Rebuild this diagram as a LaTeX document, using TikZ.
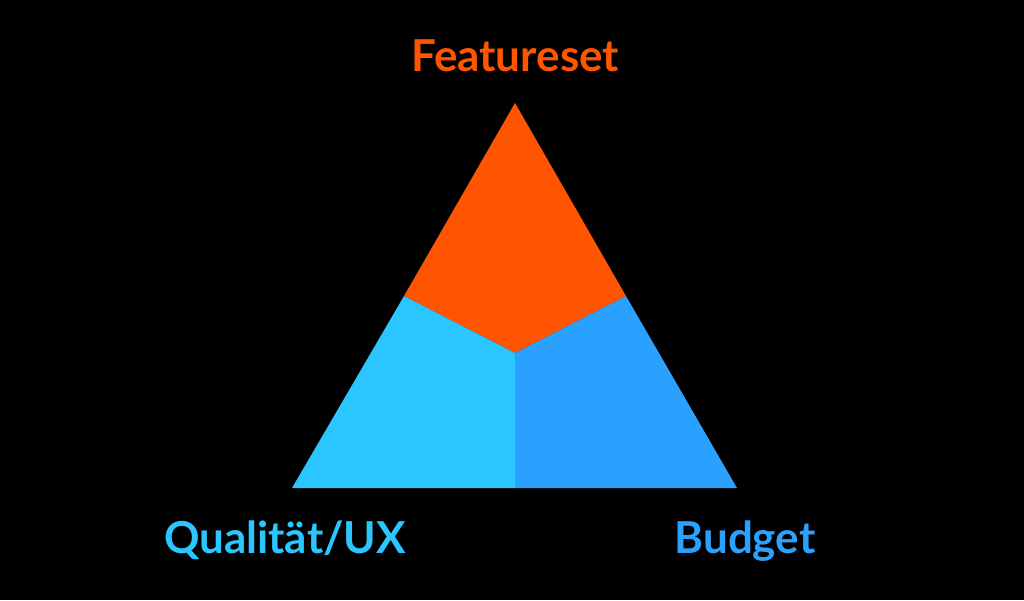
\documentclass[tikz,border=0pt]{standalone}
\usepackage{fontspec}
\setmainfont{Lato}
\definecolor{forange}{HTML}{FF5500}
\definecolor{lblue}{HTML}{2BC6FF}
\definecolor{dblue}{HTML}{2AA1FF}
\begin{document}
\begin{tikzpicture}[x=1pt,y=-1pt,lbl/.style={font=\fontsize{44}{48}\selectfont\bfseries,inner sep=0pt,anchor=base}]
\fill[black] (0,0) rectangle (1024,600);
\coordinate (A) at (515,103);
\coordinate (L) at (292,488);
\coordinate (R) at (737,488);
\coordinate (C) at (515,353);
\coordinate (ML) at (404,296);
\coordinate (MR) at (626,296);
\coordinate (MB) at (515,488);
\fill[forange] (A) -- (MR) -- (C) -- (ML) -- cycle;
\fill[lblue] (ML) -- (C) -- (MB) -- (L) -- cycle;
\fill[dblue] (MR) -- (C) -- (MB) -- (R) -- cycle;
\node[lbl,text=forange] (f) at (515,71) {Featureset};
\node[lbl,text=lblue] (q) at (285,553) {Qualität/UX};
\node[lbl,text=dblue] (b) at (745,553) {Budget};
\end{tikzpicture}
\end{document}
